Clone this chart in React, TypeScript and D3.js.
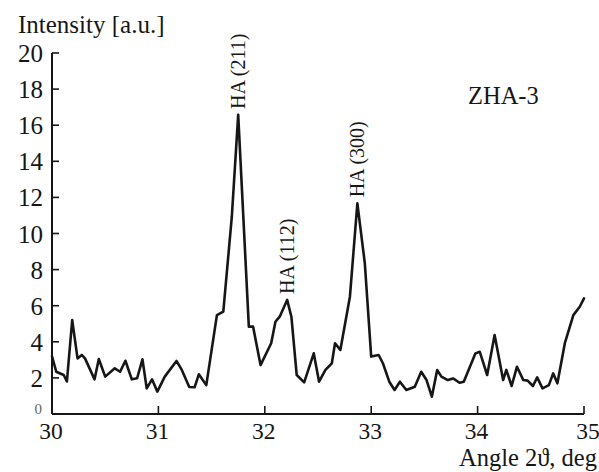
import React from "react";
import * as d3 from "d3";

const angles = [
  30.0, 30.04, 30.11, 30.14, 30.19, 30.24, 30.28, 30.31, 30.4, 30.44, 30.5, 30.59, 30.64, 30.69, 30.75,
  30.8, 30.85, 30.89, 30.94, 30.99, 31.06, 31.17, 31.22, 31.29, 31.34, 31.38, 31.45, 31.55, 31.61, 31.69,
  31.75, 31.85, 31.89, 31.96, 32.06, 32.1, 32.14, 32.21, 32.25, 32.3, 32.37, 32.46, 32.51, 32.57, 32.63,
  32.66, 32.71, 32.8, 32.87, 32.94, 33.0, 33.07, 33.11, 33.17, 33.22, 33.27, 33.33, 33.41, 33.47, 33.52,
  33.57, 33.62, 33.66, 33.72, 33.77, 33.83, 33.87, 33.98, 34.02, 34.04, 34.09, 34.16, 34.24, 34.27, 34.32,
  34.37, 34.43, 34.47, 34.52, 34.56, 34.61, 34.67, 34.71, 34.75, 34.82, 34.9, 34.96, 35.0,
];
const intensity = [
  3.2, 2.34, 2.16, 1.8, 5.2, 3.08, 3.27, 3.08, 1.92, 3.05, 2.07, 2.53, 2.34, 2.95, 1.92,
  1.98, 3.03, 1.42, 1.92, 1.24, 2.07, 2.94, 2.44, 1.5, 1.48, 2.2, 1.6, 5.48, 5.67, 10.93,
  16.57, 4.84, 4.84, 2.71, 3.92, 5.11, 5.39, 6.32, 5.39, 2.16, 1.75, 3.36, 1.79, 2.44, 2.81,
  3.92, 3.55, 6.5, 11.67, 8.35, 3.18, 3.27, 2.81, 1.79, 1.33, 1.79, 1.33, 1.51, 2.34, 1.88,
  0.96, 2.44, 2.07, 1.88, 1.97, 1.73, 1.79, 3.36, 3.45, 3.08, 2.16, 4.38, 1.88, 2.44, 1.55,
  2.62, 1.88, 1.85, 1.55, 2.03, 1.42, 1.6, 2.25, 1.7, 3.92, 5.48, 5.94, 6.41,
];
const peakLabels = ["HA (211)", "HA (112)", "HA (300)"];
const peakAngles = [31.75, 32.21, 32.87];
const peakValues = [16.57, 6.32, 11.67];
const xTicks = [30, 31, 32, 33, 34, 35];
const yTicks = [2, 4, 6, 8, 10, 12, 14, 16, 18, 20];

const W = 599;
const H = 472;
const FONT = "Liberation Serif, Times New Roman, Times, serif";
const INK = "#161616";

export default function App() {
  const x = d3.scaleLinear().domain([30, 35]).range([52, 584]);
  const y = d3.scaleLinear().domain([0, 20]).range([414, 53]);
  const pts: [number, number][] = angles.map((a, i) => [a, intensity[i]]);
  const line = d3
    .line<[number, number]>()
    .x((d) => x(d[0]))
    .y((d) => y(d[1]))
    .curve(d3.curveLinear);

  const txt = (size: number): React.CSSProperties => ({ fontFamily: FONT, fontSize: size });

  return (
    <svg
      width={W}
      height={H}
      viewBox={`0 0 ${W} ${H}`}
      style={{ position: "absolute", left: 0, top: 0, background: "#fff" }}
    >
      <rect x={0} y={0} width={W} height={H} fill="#fff" />
      {/* axes */}
      <line x1={x(30)} x2={x(30)} y1={y(20)} y2={y(0)} stroke={INK} strokeWidth={2} />
      <line x1={x(30)} x2={x(35)} y1={y(0)} y2={y(0)} stroke={INK} strokeWidth={2} />
      {yTicks.map((t) => (
        <g key={"y" + t}>
          <line x1={x(30)} x2={x(30) + 7} y1={y(t)} y2={y(t)} stroke={INK} strokeWidth={1.6} />
          <text x={43} y={y(t)} dy="0.36em" textAnchor="end" style={txt(25)} fill={INK}>
            {t}
          </text>
        </g>
      ))}
      <text x={42} y={y(0)} textAnchor="end" style={txt(15)} fill="#666">
        0
      </text>
      {xTicks.map((t) => (
        <g key={"x" + t}>
          <line x1={x(t)} x2={x(t)} y1={y(0)} y2={y(0) - 8} stroke={INK} strokeWidth={1.6} />
          <text
            x={x(t) + (t === 35 ? 4 : -1)}
            y={439}
            textAnchor="middle"
            style={txt(23.5)}
            fill={INK}
          >
            {t}
          </text>
        </g>
      ))}
      {/* data */}
      <path
        d={line(pts) || ""}
        fill="none"
        stroke={INK}
        strokeWidth={2.6}
        strokeLinejoin="round"
        strokeLinecap="round"
      />
      {/* peak labels */}
      {peakLabels.map((lab, i) => {
        const bx = x(peakAngles[i]) + 6.5;
        const by = y(peakValues[i]) - 6;
        return (
          <text
            key={lab}
            transform={`translate(${bx},${by}) rotate(-90)`}
            textAnchor="start"
            style={txt(20)}
            fill={INK}
          >
            {lab}
          </text>
        );
      })}
      {/* titles */}
      <text x={18} y={33} style={txt(25)} fill={INK}>
        Intensity [a.u.]
      </text>
      <text x={468} y={104} style={txt(24.5)} fill={INK}>
        ZHA-3
      </text>
      <text x={597} y={466} textAnchor="end" style={txt(24.5)} fill={INK}>
        Angle 2ϑ, deg
      </text>
    </svg>
  );
}
